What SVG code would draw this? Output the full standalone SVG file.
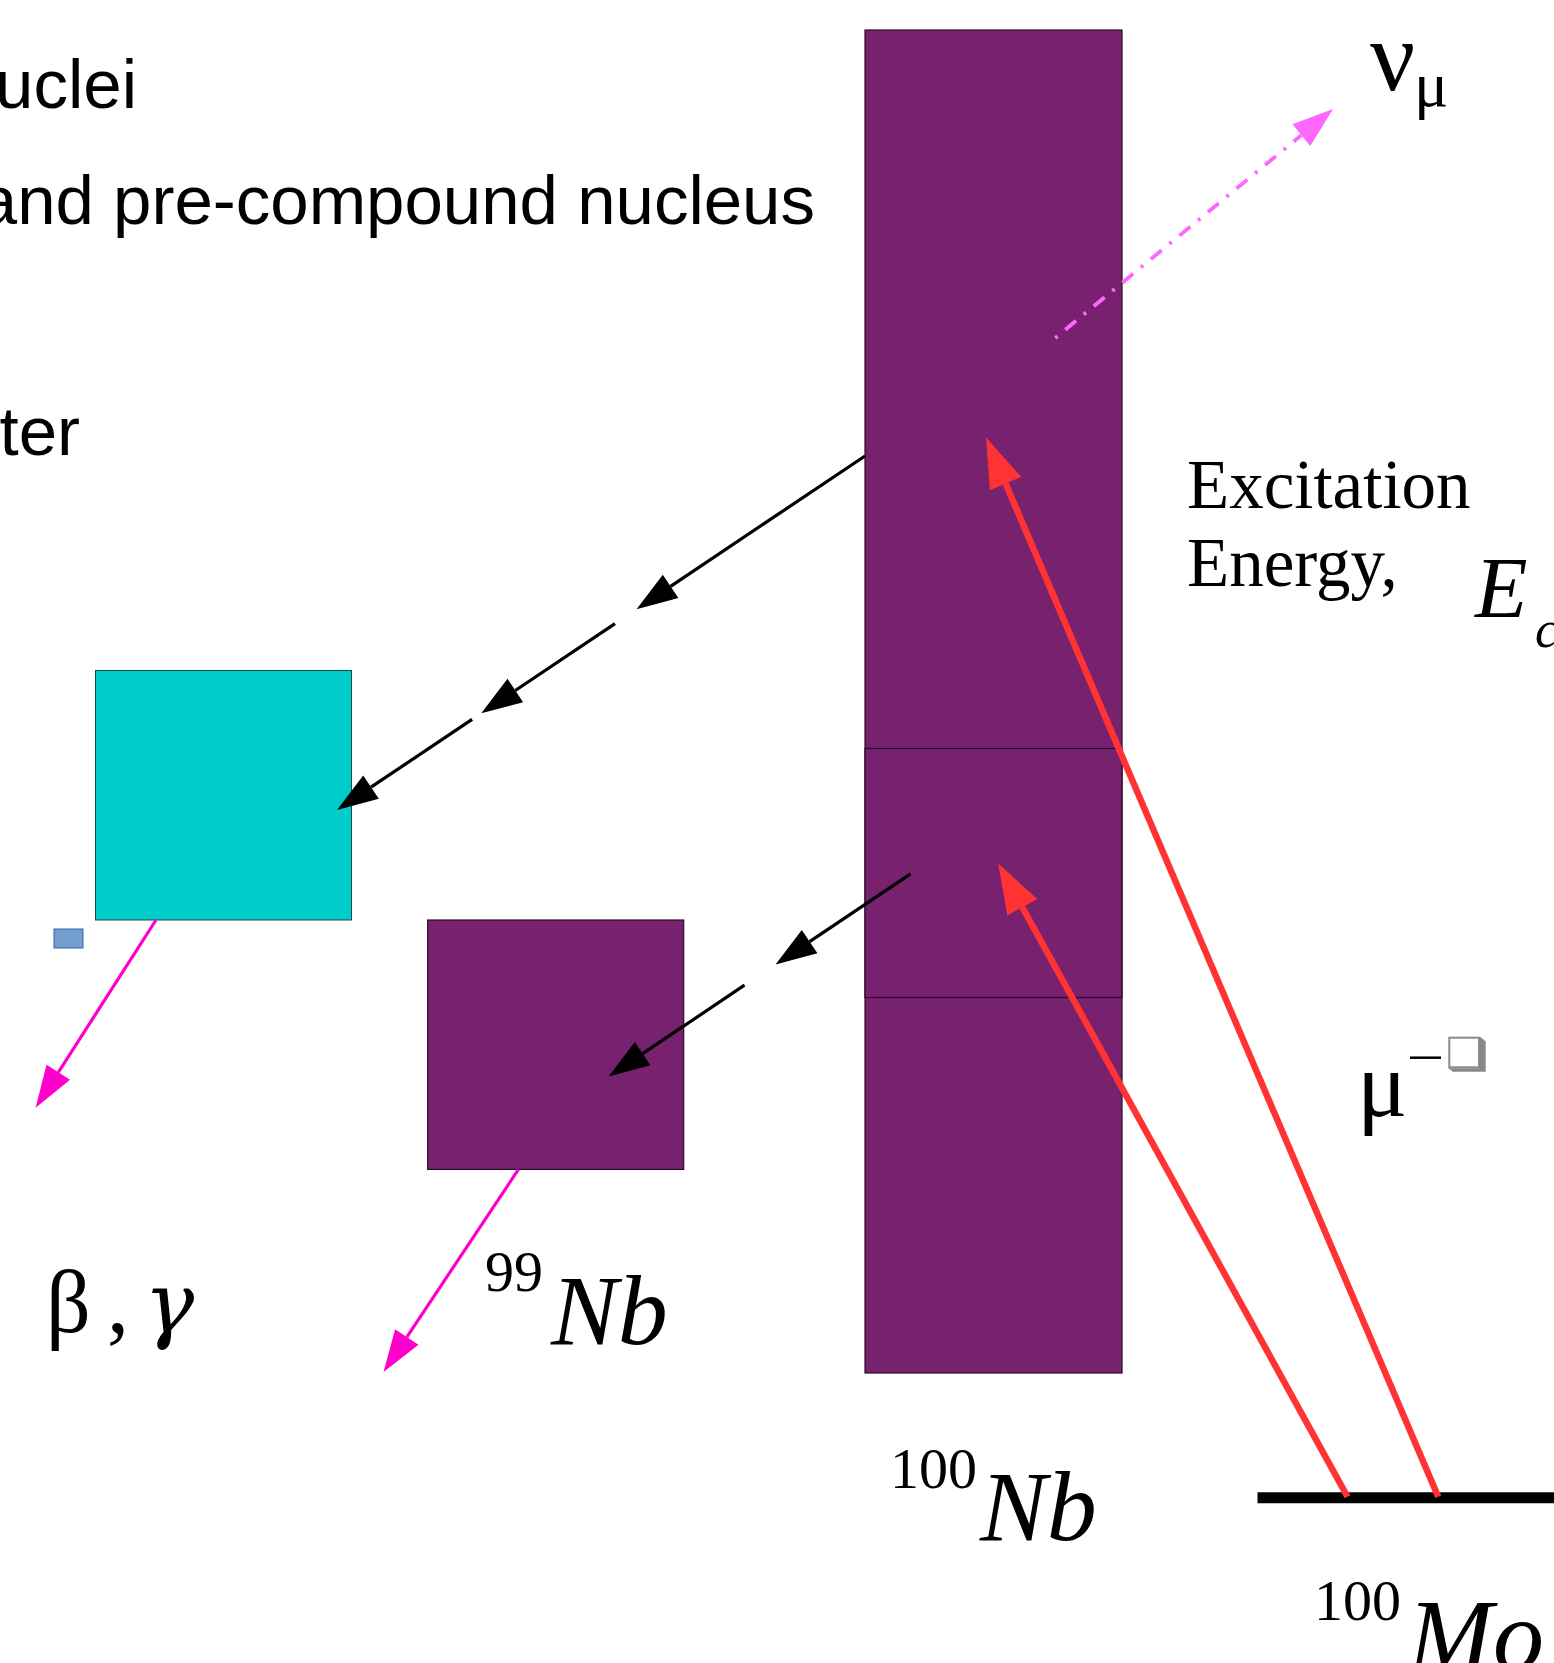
<svg xmlns="http://www.w3.org/2000/svg" width="1554" height="1663" viewBox="0 0 1554 1663">
<style>
.sans{font-family:"Liberation Sans",Arial,sans-serif;font-size:69px;fill:#000}
.serif{font-family:"Liberation Serif","Times New Roman",serif;fill:#000}
.it{font-style:italic}
.purple{fill:#77216f;stroke:#2a0a26;stroke-width:1.2}
.blk{stroke:#000;stroke-width:3.2;fill:none}
.mag{stroke:#ff00cc;stroke-width:3.2;fill:none}
.red{stroke:#ff3333;stroke-width:6.5;fill:none}
.nu{stroke:#ff66ff;stroke-width:3.8;fill:none;stroke-dasharray:3 10 14 10}
</style>
<defs>
<marker id="ah-black" markerUnits="userSpaceOnUse" markerWidth="41" markerHeight="28" viewBox="0 -14 41 28" refX="0" refY="0" orient="auto" overflow="visible"><path d="M0,-14 L41,0 L0,14 z" fill="#000"/></marker>
<marker id="ah-mag" markerUnits="userSpaceOnUse" markerWidth="42" markerHeight="28" viewBox="0 -14 42 28" refX="0" refY="0" orient="auto" overflow="visible"><path d="M0,-14 L42,0 L0,14 z" fill="#ff00cc"/></marker>
<marker id="ah-red" markerUnits="userSpaceOnUse" markerWidth="50" markerHeight="34" viewBox="0 -17 50 34" refX="0" refY="0" orient="auto" overflow="visible"><path d="M0,-17 L50,0 L0,17 z" fill="#ff3333"/></marker>
<marker id="ah-nu" markerUnits="userSpaceOnUse" markerWidth="41" markerHeight="28" viewBox="0 -14 41 28" refX="0" refY="0" orient="auto" overflow="visible"><path d="M0,-14 L41,0 L0,14 z" fill="#ff66ff"/></marker>
</defs>
<rect width="1554" height="1663" fill="#fff"/>

<g id="title-text">
<text class="sans" x="137" y="108" text-anchor="end">uclei</text>
<text class="sans" x="815" y="224" text-anchor="end">and pre-compound nucleus</text>
<text class="sans" x="80" y="455" text-anchor="end">ter</text>
</g>

<g id="nb100">
<rect class="purple" x="865" y="30" width="257" height="1343"/>
<rect class="purple" x="865" y="748.5" width="257" height="249"/>
<text class="serif" x="890" y="1488" font-size="58">100</text>
<text class="serif it" x="980" y="1540" font-size="100">Nb</text>
</g>

<g id="compound">
<rect x="95.5" y="670.5" width="256" height="249.5" fill="#00cccc" stroke="#1a4a4a" stroke-width="1"/>
</g>

<g id="small-marker">
<rect x="54" y="929" width="29" height="19" fill="#729fcf" stroke="#3465a4" stroke-width="1"/>
</g>

<g id="nb99">
<rect class="purple" x="427.7" y="920" width="256" height="249.4"/>
<text class="serif" x="485" y="1290.5" font-size="58">99</text>
<text class="serif it" x="551" y="1344" font-size="100">Nb</text>
</g>

<g id="beta-gamma">
<text class="serif" x="46" y="1332" font-size="88">β</text>
<text class="serif" x="107" y="1332" font-size="88">,</text>
<text x="144" y="1332" font-size="84" font-style="italic" font-family="'DejaVu Serif',serif">γ</text>
</g>

<g id="mo100">
<line x1="1257.5" y1="1497.7" x2="1554" y2="1497.7" stroke="#000" stroke-width="11"/>
<text class="serif" x="1314" y="1620" font-size="58">100</text>
<text class="serif it" x="1408" y="1670" font-size="102">Mo</text>
</g>

<g id="excitation-label">
<text class="serif" x="1187" y="508" font-size="69">Excitation</text>
<text class="serif" x="1187" y="586" font-size="69">Energy,</text>
<text class="serif it" x="1475" y="617" font-size="86">E</text>
<text class="serif it" x="1535" y="647" font-size="52">c</text>
</g>

<g id="muon-label">
<text class="serif" x="1357" y="1116" font-size="94">μ</text>
<line x1="1410" y1="1057.7" x2="1441" y2="1057.7" stroke="#000" stroke-width="2.5"/>
<polygon points="1480,1036.7 1485.7,1041.5 1485.7,1071.7 1453,1071.7 1448.3,1068.3 1480,1068.3" fill="#888"/>
<rect x="1449.3" y="1037.7" width="29.7" height="29.6" fill="#fff" stroke="#8a8a8a" stroke-width="2"/>
</g>

<g id="neutrino-label">
<text class="serif" x="1370" y="90" font-size="100">ν</text>
<text class="serif" x="1414" y="106" font-size="64">μ</text>
</g>

<g id="connectors">
<line class="blk" x1="865" y1="456" x2="670.6" y2="586.3" marker-end="url(#ah-black)"/>
<line class="blk" x1="615" y1="623.6" x2="515.3" y2="690.5" marker-end="url(#ah-black)"/>
<line class="blk" x1="472.1" y1="719.4" x2="371" y2="787.2" marker-end="url(#ah-black)"/>
<line class="blk" x1="910.6" y1="873.8" x2="809.6" y2="941.6" marker-end="url(#ah-black)"/>
<line class="blk" x1="744.5" y1="985.2" x2="642.6" y2="1053.7" marker-end="url(#ah-black)"/>
<line class="mag" x1="156" y1="920" x2="58.3" y2="1072.3" marker-end="url(#ah-mag)"/>
<line class="mag" x1="518.4" y1="1169.4" x2="406.8" y2="1337.1" marker-end="url(#ah-mag)"/>
<line class="nu" x1="1055.2" y1="338" x2="1301.4" y2="135.1" marker-end="url(#ah-nu)"/>
<line class="red" x1="1438.2" y1="1496.7" x2="1005.6" y2="483.5" marker-end="url(#ah-red)"/>
<line class="red" x1="1347.5" y1="1496.7" x2="1022.3" y2="907.2" marker-end="url(#ah-red)"/>
</g>
</svg>
